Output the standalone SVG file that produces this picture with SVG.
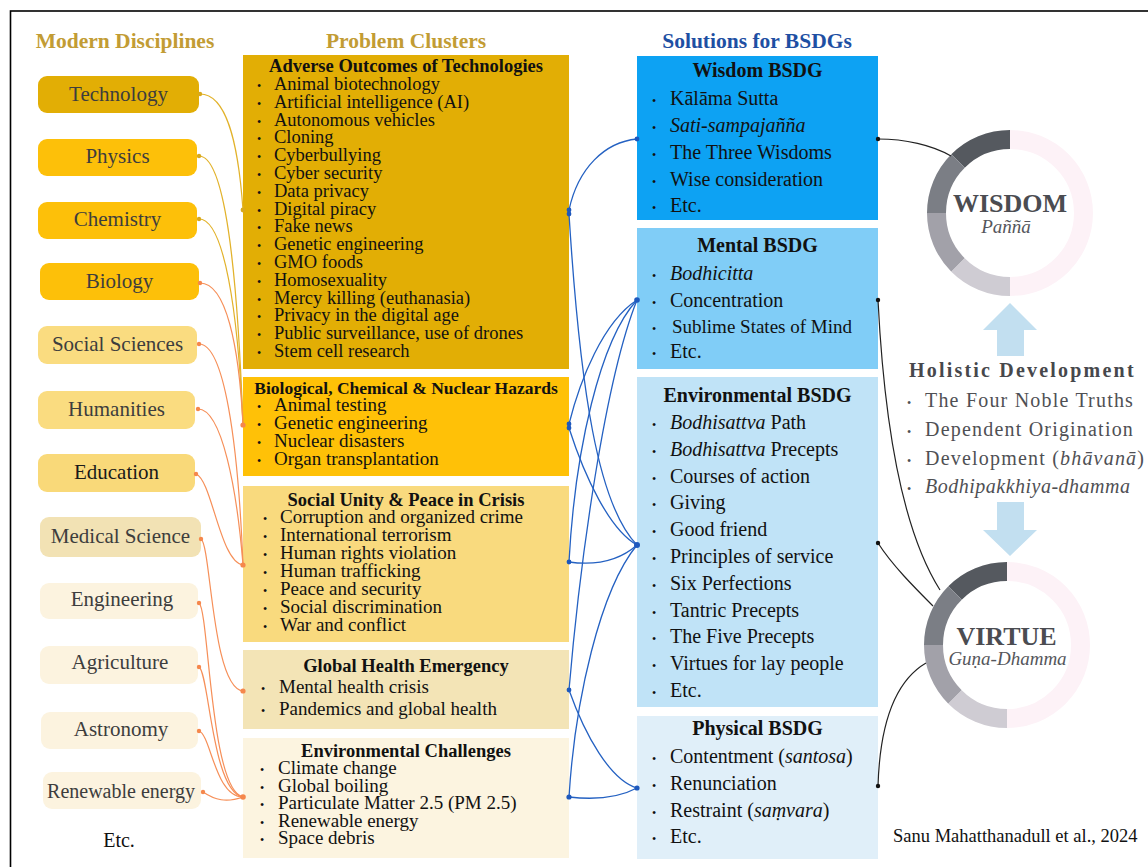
<svg xmlns="http://www.w3.org/2000/svg" width="1148" height="867" viewBox="0 0 1148 867" font-family="'Liberation Serif', 'DejaVu Serif', 'Noto Serif', Tinos, 'Times New Roman', Times, serif">
  <style>
    text { font-family: "Liberation Serif", "DejaVu Serif", "Noto Serif", Tinos, "Times New Roman", Times, serif; }
    .hd { font-size: 21.5px; font-weight: bold; text-anchor: middle; }
    .hd-gold { fill: #C29C34; }
    .hd-blue { fill: #1E4FA3; }
    .disc { font-size: 21px; fill: #3d3d3d; text-anchor: middle; }
    .pt { font-size: 18.5px; font-weight: bold; fill: #111; text-anchor: middle; }
    .pi { font-size: 19px; fill: #111; }
    .pi-s { font-size: 18.5px; fill: #111; }
    .st { font-size: 20px; font-weight: bold; fill: #111; text-anchor: middle; }
    .si { font-size: 20px; fill: #111; }
    .b { font-size: 12px; }
    .it { font-style: italic; }
    .ring-t { font-size: 26px; font-weight: bold; fill: #4b4c51; text-anchor: middle; }
    .ring-s { font-size: 19px; font-style: italic; fill: #55565b; text-anchor: middle; }
    .hol-t { font-size: 20px; font-weight: bold; fill: #47484c; letter-spacing: 2.2px; }
    .hol-i { font-size: 20px; fill: #4f5054; letter-spacing: 1.2px; }
    .seg { fill: none; stroke-width: 19; }
    .c-gold { fill: none; stroke: #E2B22A; stroke-width: 1.2; }
    .c-or { fill: none; stroke: #F68F58; stroke-width: 1.2; }
    .c-blue { fill: none; stroke: #2461C2; stroke-width: 1.3; }
    .c-blk { fill: none; stroke: #222; stroke-width: 1.2; }
    .d-gold { fill: #D9A91E; }
    .d-or { fill: #F5874C; }
    .d-blue { fill: #1D58BD; }
    .d-blk { fill: #111; }
    .arrow { fill: #C2DFF0; }
  </style>

  <!-- outer frame -->
  <rect x="10.5" y="11" width="1200" height="900" fill="#fff" stroke="#000" stroke-width="1.6"/>

  <!-- column headings -->
  <g id="headings">
    <text class="hd hd-gold" x="125" y="48">Modern Disciplines</text>
    <text class="hd hd-gold" x="406" y="48">Problem Clusters</text>
    <text class="hd hd-blue" x="757" y="48">Solutions for BSDGs</text>
  </g>

  <!-- modern disciplines -->
  <g id="disc-technology"><rect x="38" y="76" width="161" height="37" rx="9" fill="#E2AE05"/><text class="disc" x="118.5" y="101">Technology</text></g>
  <g id="disc-physics"><rect x="38" y="139" width="159" height="37" rx="9" fill="#FDC009"/><text class="disc" x="117.5" y="163">Physics</text></g>
  <g id="disc-chemistry"><rect x="38" y="202" width="159" height="37" rx="9" fill="#FDC009"/><text class="disc" x="117.5" y="226">Chemistry</text></g>
  <g id="disc-biology"><rect x="40" y="263" width="159" height="37" rx="9" fill="#FDC009"/><text class="disc" x="119.5" y="288">Biology</text></g>
  <g id="disc-social-sciences"><rect x="38" y="326" width="159" height="38" rx="9" fill="#FADC80"/><text class="disc" x="117.5" y="351">Social Sciences</text></g>
  <g id="disc-humanities"><rect x="38" y="391" width="157" height="38" rx="9" fill="#FADC80"/><text class="disc" x="116.5" y="416">Humanities</text></g>
  <g id="disc-education"><rect x="38" y="454" width="157" height="38" rx="9" fill="#F9D979"/><text class="disc" x="116.5" y="479" style="fill:#1a1a1a">Education</text></g>
  <g id="disc-medical-science"><rect x="40" y="517" width="161" height="40" rx="9" fill="#F2E2B4"/><text class="disc" x="120.5" y="543">Medical Science</text></g>
  <g id="disc-engineering"><rect x="40" y="583" width="158" height="36" rx="9" fill="#FCF3DF"/><text class="disc" x="122" y="606">Engineering</text></g>
  <g id="disc-agriculture"><rect x="40" y="646" width="158" height="38" rx="9" fill="#FCF3DF"/><text class="disc" x="120" y="669">Agriculture</text></g>
  <g id="disc-astronomy"><rect x="41" y="712" width="157" height="37" rx="9" fill="#FCF3DF"/><text class="disc" x="121" y="736">Astronomy</text></g>
  <g id="disc-renewable-energy"><rect x="43" y="772" width="158" height="37" rx="9" fill="#FCF3DF"/><text class="disc" x="121" y="798" style="font-size:20px">Renewable energy</text></g>
  <g id="disc-etc"><text class="disc" x="119" y="847" style="fill:#111;font-size:20px">Etc.</text></g>

  <!-- problem clusters -->
  <g id="prob-technologies">
    <rect x="243" y="55" width="326" height="314" fill="#E2AE05"/>
    <text class="pt" x="406" y="72">Adverse Outcomes of Technologies</text>
    <text class="pi-s" y="90"><tspan class="b" x="257">•</tspan><tspan x="274">Animal biotechnology</tspan></text>
    <text class="pi-s" y="107.8"><tspan class="b" x="257">•</tspan><tspan x="274">Artificial intelligence (AI)</tspan></text>
    <text class="pi-s" y="125.6"><tspan class="b" x="257">•</tspan><tspan x="274">Autonomous vehicles</tspan></text>
    <text class="pi-s" y="143.4"><tspan class="b" x="257">•</tspan><tspan x="274">Cloning</tspan></text>
    <text class="pi-s" y="161.2"><tspan class="b" x="257">•</tspan><tspan x="274">Cyberbullying</tspan></text>
    <text class="pi-s" y="179"><tspan class="b" x="257">•</tspan><tspan x="274">Cyber security</tspan></text>
    <text class="pi-s" y="196.8"><tspan class="b" x="257">•</tspan><tspan x="274">Data privacy</tspan></text>
    <text class="pi-s" y="214.6"><tspan class="b" x="257">•</tspan><tspan x="274">Digital piracy</tspan></text>
    <text class="pi-s" y="232.4"><tspan class="b" x="257">•</tspan><tspan x="274">Fake news</tspan></text>
    <text class="pi-s" y="250.2"><tspan class="b" x="257">•</tspan><tspan x="274">Genetic engineering</tspan></text>
    <text class="pi-s" y="268"><tspan class="b" x="257">•</tspan><tspan x="274">GMO foods</tspan></text>
    <text class="pi-s" y="285.8"><tspan class="b" x="257">•</tspan><tspan x="274">Homosexuality</tspan></text>
    <text class="pi-s" y="303.6"><tspan class="b" x="257">•</tspan><tspan x="274">Mercy killing (euthanasia)</tspan></text>
    <text class="pi-s" y="321.4"><tspan class="b" x="257">•</tspan><tspan x="274">Privacy in the digital age</tspan></text>
    <text class="pi-s" y="339.2"><tspan class="b" x="257">•</tspan><tspan x="274">Public surveillance, use of drones</tspan></text>
    <text class="pi-s" y="357"><tspan class="b" x="257">•</tspan><tspan x="274">Stem cell research</tspan></text>
  </g>

  <g id="prob-hazards">
    <rect x="243" y="377" width="326" height="99" fill="#FFC107"/>
    <text class="pt" x="406" y="394" style="font-size:17.5px">Biological, Chemical &amp; Nuclear Hazards</text>
    <text class="pi" y="411"><tspan class="b" x="257">•</tspan><tspan x="274">Animal testing</tspan></text>
    <text class="pi" y="429"><tspan class="b" x="257">•</tspan><tspan x="274">Genetic engineering</tspan></text>
    <text class="pi" y="447"><tspan class="b" x="257">•</tspan><tspan x="274">Nuclear disasters</tspan></text>
    <text class="pi" y="465"><tspan class="b" x="257">•</tspan><tspan x="274">Organ transplantation</tspan></text>
  </g>

  <g id="prob-social-unity">
    <rect x="243" y="486" width="326" height="156" fill="#F9DA7E"/>
    <text class="pt" x="406" y="506">Social Unity &amp; Peace in Crisis</text>
    <text class="pi" y="523"><tspan class="b" x="263">•</tspan><tspan x="280">Corruption and organized crime</tspan></text>
    <text class="pi" y="541"><tspan class="b" x="263">•</tspan><tspan x="280">International terrorism</tspan></text>
    <text class="pi" y="559"><tspan class="b" x="263">•</tspan><tspan x="280">Human rights violation</tspan></text>
    <text class="pi" y="577"><tspan class="b" x="263">•</tspan><tspan x="280">Human trafficking</tspan></text>
    <text class="pi" y="595"><tspan class="b" x="263">•</tspan><tspan x="280">Peace and security</tspan></text>
    <text class="pi" y="613"><tspan class="b" x="263">•</tspan><tspan x="280">Social discrimination</tspan></text>
    <text class="pi" y="631"><tspan class="b" x="263">•</tspan><tspan x="280">War and conflict</tspan></text>
  </g>

  <g id="prob-health">
    <rect x="243" y="650" width="326" height="79" fill="#F3E4B6"/>
    <text class="pt" x="406" y="672">Global Health Emergency</text>
    <text class="pi" y="693"><tspan class="b" x="261">•</tspan><tspan x="279">Mental health crisis</tspan></text>
    <text class="pi" y="715"><tspan class="b" x="261">•</tspan><tspan x="279">Pandemics and global health</tspan></text>
  </g>

  <g id="prob-environment">
    <rect x="243" y="738" width="326" height="120" fill="#FCF4E0"/>
    <text class="pt" x="406" y="757">Environmental Challenges</text>
    <text class="pi" y="774"><tspan class="b" x="260">•</tspan><tspan x="278">Climate change</tspan></text>
    <text class="pi" y="791.5"><tspan class="b" x="260">•</tspan><tspan x="278">Global boiling</tspan></text>
    <text class="pi" y="809"><tspan class="b" x="260">•</tspan><tspan x="278">Particulate Matter 2.5 (PM 2.5)</tspan></text>
    <text class="pi" y="826.5"><tspan class="b" x="260">•</tspan><tspan x="278">Renewable energy</tspan></text>
    <text class="pi" y="844"><tspan class="b" x="260">•</tspan><tspan x="278">Space debris</tspan></text>
  </g>

  <!-- BSDG solutions -->
  <g id="sol-wisdom">
    <rect x="637" y="56" width="241" height="164" fill="#0DA2F3"/>
    <text class="st" x="757.5" y="77">Wisdom BSDG</text>
    <text class="si" y="105"><tspan class="b" x="652">•</tspan><tspan x="670">Kālāma Sutta</tspan></text>
    <text class="si" y="132"><tspan class="b" x="652">•</tspan><tspan x="670" class="it">Sati-sampajañña</tspan></text>
    <text class="si" y="159"><tspan class="b" x="652">•</tspan><tspan x="670">The Three Wisdoms</tspan></text>
    <text class="si" y="186"><tspan class="b" x="652">•</tspan><tspan x="670">Wise consideration</tspan></text>
    <text class="si" y="212"><tspan class="b" x="652">•</tspan><tspan x="670">Etc.</tspan></text>
  </g>

  <g id="sol-mental">
    <rect x="637" y="228" width="241" height="141" fill="#80CDF7"/>
    <text class="st" x="757.5" y="252">Mental BSDG</text>
    <text class="si" y="280"><tspan class="b" x="652">•</tspan><tspan x="670" class="it">Bodhicitta</tspan></text>
    <text class="si" y="307"><tspan class="b" x="652">•</tspan><tspan x="670">Concentration</tspan></text>
    <text class="si" y="333"><tspan class="b" x="652">•</tspan><tspan x="672" style="font-size:19px">Sublime States of Mind</tspan></text>
    <text class="si" y="358"><tspan class="b" x="652">•</tspan><tspan x="670">Etc.</tspan></text>
  </g>

  <g id="sol-environmental">
    <rect x="637" y="377" width="241" height="330" fill="#C0E3F7"/>
    <text class="st" x="757.5" y="402">Environmental BSDG</text>
    <text class="si" y="429"><tspan class="b" x="652">•</tspan><tspan x="670" class="it">Bodhisattva</tspan><tspan> Path</tspan></text>
    <text class="si" y="456"><tspan class="b" x="652">•</tspan><tspan x="670" class="it">Bodhisattva</tspan><tspan> Precepts</tspan></text>
    <text class="si" y="483"><tspan class="b" x="652">•</tspan><tspan x="670">Courses of action</tspan></text>
    <text class="si" y="509"><tspan class="b" x="652">•</tspan><tspan x="670">Giving</tspan></text>
    <text class="si" y="536"><tspan class="b" x="652">•</tspan><tspan x="670">Good friend</tspan></text>
    <text class="si" y="563"><tspan class="b" x="652">•</tspan><tspan x="670">Principles of service</tspan></text>
    <text class="si" y="590"><tspan class="b" x="652">•</tspan><tspan x="670">Six Perfections</tspan></text>
    <text class="si" y="617"><tspan class="b" x="652">•</tspan><tspan x="670">Tantric Precepts</tspan></text>
    <text class="si" y="643"><tspan class="b" x="652">•</tspan><tspan x="670">The Five Precepts</tspan></text>
    <text class="si" y="670"><tspan class="b" x="652">•</tspan><tspan x="670">Virtues for lay people</tspan></text>
    <text class="si" y="697"><tspan class="b" x="652">•</tspan><tspan x="670">Etc.</tspan></text>
  </g>

  <g id="sol-physical">
    <rect x="637" y="716" width="241" height="143" fill="#E0EFF9"/>
    <text class="st" x="757.5" y="735">Physical BSDG</text>
    <text class="si" y="763"><tspan class="b" x="652">•</tspan><tspan x="670">Contentment (</tspan><tspan class="it">santosa</tspan><tspan>)</tspan></text>
    <text class="si" y="790"><tspan class="b" x="652">•</tspan><tspan x="670">Renunciation</tspan></text>
    <text class="si" y="817"><tspan class="b" x="652">•</tspan><tspan x="670">Restraint (</tspan><tspan class="it">saṃvara</tspan><tspan>)</tspan></text>
    <text class="si" y="843"><tspan class="b" x="652">•</tspan><tspan x="670">Etc.</tspan></text>
  </g>

  <!-- wisdom ring -->
  <g id="ring-wisdom">
    <path class="seg" stroke="#FDF2F7" d="M1010,139.5 A73.5,73.5 0 0 1 1010,286.5"/>
    <path class="seg" stroke="#55595F" d="M1010,139.5 A73.5,73.5 0 0 0 958.03,161.03"/>
    <path class="seg" stroke="#7B7E85" d="M958.03,161.03 A73.5,73.5 0 0 0 936.5,213"/>
    <path class="seg" stroke="#A2A1A9" d="M936.5,213 A73.5,73.5 0 0 0 958.03,264.97"/>
    <path class="seg" stroke="#CFCCD3" d="M958.03,264.97 A73.5,73.5 0 0 0 1010,286.5"/>
    <text class="ring-t" x="1010" y="212">WISDOM</text>
    <text class="ring-s" x="1006" y="233">Paññā</text>
  </g>

  <!-- holistic development -->
  <g id="holistic">
    <polygon class="arrow" points="1010,303 1037,330 1024,330 1024,356 997,356 997,330 983,330"/>
    <text class="hol-t" x="909" y="377">Holistic Development</text>
    <text class="hol-i" y="407"><tspan class="b" x="907">•</tspan><tspan x="925">The Four Noble Truths</tspan></text>
    <text class="hol-i" y="436"><tspan class="b" x="907">•</tspan><tspan x="925">Dependent Origination</tspan></text>
    <text class="hol-i" y="465"><tspan class="b" x="907">•</tspan><tspan x="925">Development (</tspan><tspan class="it">bhāvanā</tspan><tspan>)</tspan></text>
    <text class="hol-i" y="493"><tspan class="b" x="907">•</tspan><tspan x="925" class="it" style="letter-spacing:0.5px">Bodhipakkhiya-dhamma</tspan></text>
    <polygon class="arrow" points="997,502 1024,502 1024,530 1037,530 1010,556 983,530 997,530"/>
  </g>

  <!-- virtue ring -->
  <g id="ring-virtue">
    <path class="seg" stroke="#FDF2F7" d="M1007,571.5 A73.5,73.5 0 0 1 1007,718.5"/>
    <path class="seg" stroke="#55595F" d="M1007,571.5 A73.5,73.5 0 0 0 955.03,593.03"/>
    <path class="seg" stroke="#7B7E85" d="M955.03,593.03 A73.5,73.5 0 0 0 933.5,645"/>
    <path class="seg" stroke="#A2A1A9" d="M933.5,645 A73.5,73.5 0 0 0 955.03,696.97"/>
    <path class="seg" stroke="#CFCCD3" d="M955.03,696.97 A73.5,73.5 0 0 0 1007,718.5"/>
    <text class="ring-t" x="1006.5" y="645">VIRTUE</text>
    <text class="ring-s" x="1007.5" y="665">Guṇa-Dhamma</text>
  </g>

  <g id="credit">
    <text x="893" y="842" style="font-size:18.5px;fill:#111">Sanu Mahatthanadull et al., 2024</text>
  </g>

  <!-- connectors -->
  <g id="connectors">
    <!-- disciplines to problem clusters -->
    <path class="c-gold" d="M200,94 C226,94 238,140 243,210"/>
    <path class="c-gold" d="M199,156 C224,156 237,260 243,425"/>
    <path class="c-gold" d="M199,219 C224,219 238,310 243,425"/>
    <path class="c-or" d="M200,283 C226,283 239,345 243,425"/>
    <path class="c-or" d="M199,344 C224,344 238,440 243,565"/>
    <path class="c-or" d="M198,409 C222,409 237,490 243,565"/>
    <path class="c-or" d="M196,474 C212,480 220,562 243,565"/>
    <path class="c-or" d="M201,539 C211,545 212,688 243,691"/>
    <path class="c-or" d="M199,603 C209,610 210,790 243,797"/>
    <path class="c-or" d="M199,667 C209,672 212,792 243,797"/>
    <path class="c-or" d="M199,731 C211,735 215,797 243,797"/>
    <path class="c-or" d="M203,792 C215,800 226,803 243,797"/>
    <circle class="d-gold" cx="200" cy="94" r="2.2"/>
    <circle class="d-gold" cx="199" cy="156" r="2.2"/>
    <circle class="d-gold" cx="199" cy="219" r="2.2"/>
    <circle class="d-or" cx="200" cy="283" r="2.2"/>
    <circle class="d-or" cx="199" cy="344" r="2.2"/>
    <circle class="d-or" cx="198" cy="409" r="2.2"/>
    <circle class="d-or" cx="196" cy="474" r="2.2"/>
    <circle class="d-or" cx="201" cy="539" r="2.2"/>
    <circle class="d-or" cx="199" cy="603" r="2.2"/>
    <circle class="d-or" cx="199" cy="667" r="2.2"/>
    <circle class="d-or" cx="199" cy="731" r="2.2"/>
    <circle class="d-or" cx="203" cy="792" r="2.2"/>
    <circle class="d-gold" cx="243" cy="210" r="2.4"/>
    <circle class="d-or" cx="243" cy="425" r="2.6"/>
    <circle class="d-or" cx="243" cy="565" r="2.6"/>
    <circle class="d-or" cx="243" cy="691" r="2.6"/>
    <circle class="d-or" cx="243" cy="797" r="2.8"/>

    <!-- problem clusters to BSDG solutions -->
    <path class="c-blue" d="M569,210 C578,168 605,142 637,139"/>
    <path class="c-blue" d="M569,214 C580,390 598,505 637,545"/>
    <path class="c-blue" d="M569,424 C580,380 603,322 637,300"/>
    <path class="c-blue" d="M569,428 C585,478 610,530 637,545"/>
    <path class="c-blue" d="M569,562 C598,566 620,560 637,545"/>
    <path class="c-blue" d="M569,562 C575,450 600,340 637,300"/>
    <path class="c-blue" d="M569,690 C580,560 605,380 637,300"/>
    <path class="c-blue" d="M569,690 C585,735 610,780 637,788"/>
    <path class="c-blue" d="M569,797 C575,700 600,590 637,545"/>
    <path class="c-blue" d="M569,797 C595,800 620,797 637,788"/>
    <circle class="d-blue" cx="569" cy="210" r="2.4"/>
    <circle class="d-blue" cx="569" cy="214" r="2.4"/>
    <circle class="d-blue" cx="569" cy="424" r="2.4"/>
    <circle class="d-blue" cx="569" cy="428" r="2.4"/>
    <circle class="d-blue" cx="569" cy="562" r="2.4"/>
    <circle class="d-blue" cx="569" cy="690" r="2.4"/>
    <circle class="d-blue" cx="569" cy="797" r="2.6"/>
    <circle class="d-blue" cx="637" cy="139" r="2.4"/>
    <circle class="d-blue" cx="637" cy="300" r="2.8"/>
    <circle class="d-blue" cx="637" cy="545" r="3"/>
    <circle class="d-blue" cx="637" cy="788" r="2.6"/>

    <!-- BSDG solutions to the rings -->
    <path class="c-blk" d="M878,139 C905,139 932,145 951,156"/>
    <path class="c-blk" d="M878,300 C884,420 902,530 940,590"/>
    <path class="c-blk" d="M878,543 C892,565 915,588 933,606"/>
    <path class="c-blk" d="M878,786 C880,720 897,680 926,663"/>
    <circle class="d-blk" cx="878" cy="139" r="2.2"/>
    <circle class="d-blk" cx="878" cy="300" r="2.2"/>
    <circle class="d-blk" cx="878" cy="543" r="2.2"/>
    <circle class="d-blk" cx="878" cy="786" r="2.2"/>
  </g>
</svg>
